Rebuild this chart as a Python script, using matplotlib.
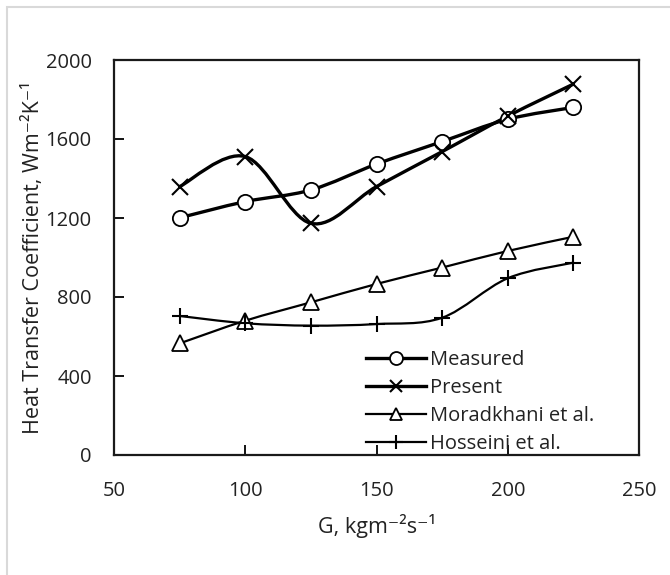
import matplotlib
matplotlib.use("Agg")
import matplotlib.pyplot as plt
from matplotlib.path import Path
from matplotlib.patches import PathPatch, Rectangle
from matplotlib.lines import Line2D
import numpy as np

plt.rcParams['font.family'] = ['Open Sans', 'DejaVu Sans']

G = [75, 100, 125, 150, 175, 200, 225]
measured = [1201, 1283, 1342, 1473, 1587, 1700, 1760]
present = [1359, 1511, 1173, 1359, 1536, 1716, 1878]
moradkhani = [565, 680, 773, 866, 949, 1033, 1105]
hosseini = [704, 667, 655, 663, 695, 895, 974]

series = [
    ("Measured", measured, 'o', 2.4, 11, 1.3),
    ("Present", present, 'x', 2.4, 11, 1.5),
    ("Moradkhani et al.", moradkhani, '^', 1.6, 11, 1.3),
    ("Hosseini et al.", hosseini, '+', 1.6, 12, 1.5),
]

W, H = 670, 575
fig = plt.figure(figsize=(W / 100, H / 100), dpi=100)
fig.patches.append(Rectangle((7 / W, -0.1), 1.2, 1 - 7 / H + 0.1, transform=fig.transFigure,
                             fill=False, edgecolor='#d9d9d9', linewidth=1.5))
ax = fig.add_axes([114 / W, (H - 455) / H, 525 / W, 395 / H])


def smooth_path(x, y):
    pts = np.column_stack([x, y]).astype(float)
    n = len(pts)
    verts = [pts[0]]
    codes = [Path.MOVETO]
    for i in range(n - 1):
        p0 = pts[i - 1] if i > 0 else pts[i]
        p1 = pts[i]
        p2 = pts[i + 1]
        p3 = pts[i + 2] if i + 2 < n else pts[i + 1]
        c1 = p1 + (p2 - p0) / 6.0
        c2 = p2 - (p3 - p1) / 6.0
        verts += [c1, c2, p2]
        codes += [Path.CURVE4] * 3
    return Path(verts, codes)


handles = []
for name, vals, mk, lw, ms, mew in series:
    ax.add_patch(PathPatch(smooth_path(G, vals), fill=False, edgecolor='black', linewidth=lw,
                           zorder=2, capstyle='round', joinstyle='round'))
    ax.plot(G, vals, linestyle='none', marker=mk, markersize=ms, markerfacecolor='white',
            markeredgecolor='black', markeredgewidth=mew, zorder=3)
    handles.append(Line2D([], [], color='black', linewidth=lw, marker=mk, markersize=ms * 0.85,
                          markerfacecolor='white', markeredgecolor='black', markeredgewidth=mew))

ax.set_xlim(50, 250)
ax.set_ylim(0, 2000)
ax.set_xticks([50, 100, 150, 200, 250])
ax.set_yticks([0, 400, 800, 1200, 1600, 2000])
ax.tick_params(direction='in', length=7, width=1.3, labelsize=14.5, colors='black',
               labelcolor='#222222')
ax.tick_params(axis='y', pad=16)
ax.tick_params(axis='x', pad=19)
for s in ax.spines.values():
    s.set_linewidth(1.6)
    s.set_color('#1a1a1a')

ax.set_xlabel('G, kgm\u207b\u00b2s\u207b\u00b9', fontsize=15.5, labelpad=9, color='#222222')
ax.set_ylabel('Heat Transfer Coefficient, Wm\u207b\u00b2K\u207b\u00b9', fontsize=15.5, labelpad=1,
              color='#222222')

leg = ax.legend(handles, [s[0] for s in series], loc='upper left',
                bbox_to_anchor=(366 / W, 1 - 350 / H), bbox_transform=fig.transFigure,
                frameon=False, fontsize=14.5, handlelength=3.0, handletextpad=0.2,
                labelspacing=0.4, borderpad=0, borderaxespad=0)
for t in leg.get_texts():
    t.set_color('#222222')

fig.savefig('out.png', dpi=100)
